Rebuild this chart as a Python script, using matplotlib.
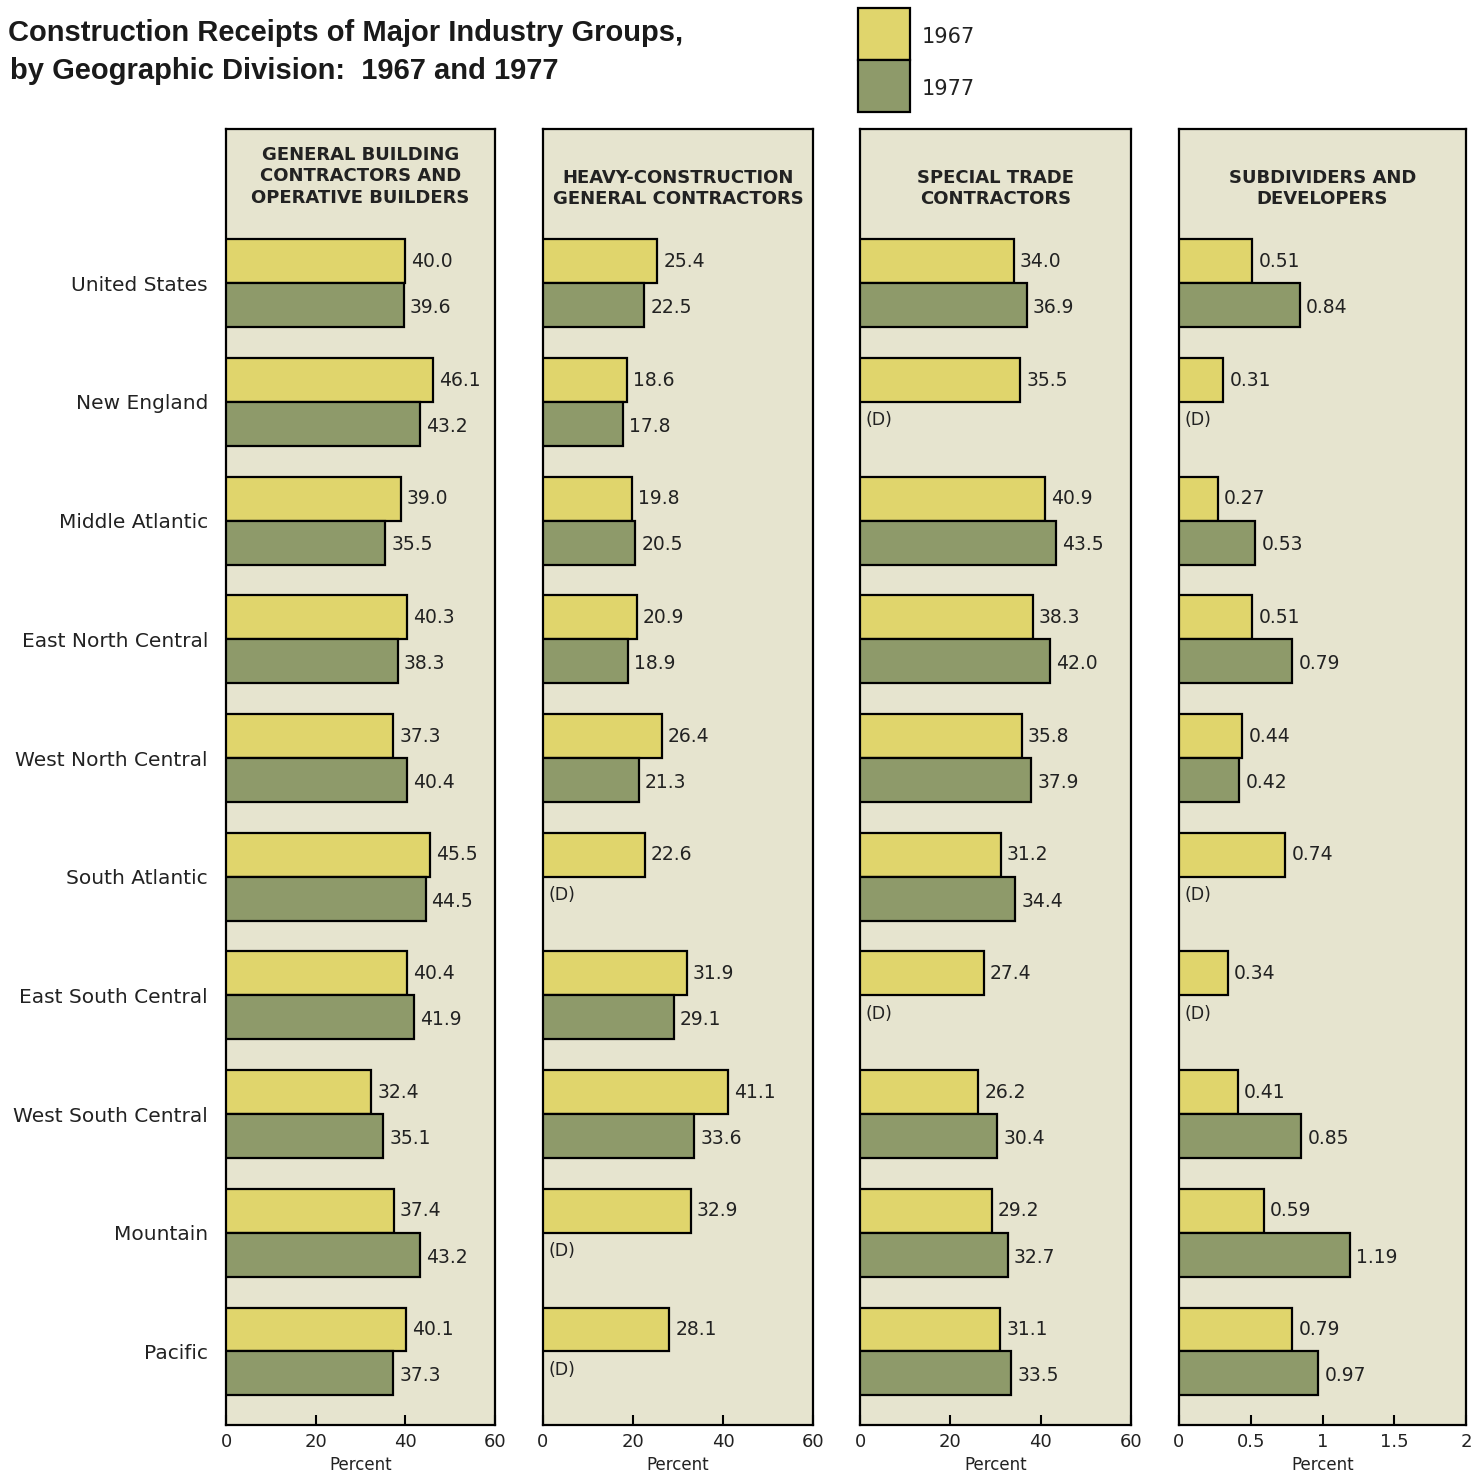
import matplotlib
matplotlib.use("Agg")
import matplotlib.pyplot as plt
from matplotlib.patches import Rectangle
import numpy as np

# divisions, top to bottom
divisions = ["United States", "New England", "Middle Atlantic", "East North Central",
             "West North Central", "South Atlantic", "East South Central",
             "West South Central", "Mountain", "Pacific"]

titles = ["GENERAL BUILDING\nCONTRACTORS AND\nOPERATIVE BUILDERS",
          "HEAVY-CONSTRUCTION\nGENERAL CONTRACTORS",
          "SPECIAL TRADE\nCONTRACTORS",
          "SUBDIVIDERS AND\nDEVELOPERS"]

# None = withheld, shown as (D)
general_1967 = [40.0, 46.1, 39.0, 40.3, 37.3, 45.5, 40.4, 32.4, 37.4, 40.1]
general_1977 = [39.6, 43.2, 35.5, 38.3, 40.4, 44.5, 41.9, 35.1, 43.2, 37.3]
heavy_1967 = [25.4, 18.6, 19.8, 20.9, 26.4, 22.6, 31.9, 41.1, 32.9, 28.1]
heavy_1977 = [22.5, 17.8, 20.5, 18.9, 21.3, None, 29.1, 33.6, None, None]
special_1967 = [34.0, 35.5, 40.9, 38.3, 35.8, 31.2, 27.4, 26.2, 29.2, 31.1]
special_1977 = [36.9, None, 43.5, 42.0, 37.9, 34.4, None, 30.4, 32.7, 33.5]
subdiv_1967 = [0.51, 0.31, 0.27, 0.51, 0.44, 0.74, 0.34, 0.41, 0.59, 0.79]
subdiv_1977 = [0.84, None, 0.53, 0.79, 0.42, None, None, 0.85, 1.19, 0.97]

xmax = [60, 60, 60, 2]
xticks = [[0, 20, 40, 60], [0, 20, 40, 60], [0, 20, 40, 60], [0, 0.5, 1, 1.5, 2]]
xticklabels = [["0", "20", "40", "60"]] * 3 + [["0", "0.5", "1", "1.5", "2"]]
fmts = ["{:.1f}", "{:.1f}", "{:.1f}", "{:.2f}"]

series = [(general_1967, general_1977), (heavy_1967, heavy_1977),
          (special_1967, special_1977), (subdiv_1967, subdiv_1977)]

c67 = "#e0d56c"
c77 = "#8e9a6a"
bg = "#e6e4cf"
txt = "#222222"
plt.rcParams['font.family'] = ['DejaVu Sans']

W, H = 1481, 1473
fig = plt.figure(figsize=(W / 100, H / 100), dpi=100)

lefts = [226, 543, 860, 1179]
widths = [269, 270, 271, 287]
top_px, bot_px = 129, 1425
title_y = [-0.90, -0.80, -0.80, -0.80]

y = np.arange(len(divisions))
h = 0.37

for k in range(4):
    ax = fig.add_axes([lefts[k] / W, 1 - bot_px / H, widths[k] / W, (bot_px - top_px) / H])
    ax.set_facecolor(bg)
    v67, v77 = series[k]
    a67 = np.array([np.nan if v is None else v for v in v67])
    a77 = np.array([0 if v is None else v for v in v77])
    ax.barh(y - h / 2, a67, height=h, color=c67, edgecolor="black", linewidth=1.6, zorder=3)
    bars77 = ax.barh(y + h / 2, a77, height=h, color=c77, edgecolor="black",
                     linewidth=1.6, zorder=3)
    # hide empty bars for (D)
    for p, v in zip(bars77, v77):
        if v is None:
            p.set_visible(False)
    off = xmax[k] * 0.022
    for i in range(len(divisions)):
        ax.text(v67[i] + off, y[i] - h / 2, fmts[k].format(v67[i]), va="center",
                ha="left", fontsize=13.5, color=txt)
        if v77[i] is None:
            ax.text(xmax[k] * 0.02, y[i] + h / 2 - 0.03, "(D)", va="center", ha="left",
                    fontsize=12.5, color=txt)
        else:
            ax.text(v77[i] + off, y[i] + h / 2 + 0.02, fmts[k].format(v77[i]), va="center",
                    ha="left", fontsize=13.5, color=txt)
    ax.text(xmax[k] / 2, title_y[k], titles[k], ha="center", va="center",
            fontsize=13, fontweight="semibold", color=txt, linespacing=1.25)
    ax.set_xlim(0, xmax[k])
    ax.set_ylim(9.62, -1.30)
    ax.set_yticks([])
    ax.set_xticks(xticks[k])
    ax.set_xticklabels(xticklabels[k], fontsize=13, color=txt)
    ax.tick_params(axis="x", direction="in", length=7, width=1.5, pad=6)
    ax.set_xlabel("Percent", fontsize=12, color=txt, labelpad=3)
    for s in ax.spines.values():
        s.set_linewidth(1.6)
    if k == 0:
        ax.set_yticks(y)
        ax.set_yticklabels(divisions, fontsize=14.5, color=txt)
        ax.tick_params(axis="y", length=0, pad=13)

# title
fig.text(8 / W, 1 - 33 / H, "Construction Receipts of Major Industry Groups,",
         fontsize=21, fontweight="bold", family="Liberation Sans", va="center",
         ha="left", color="#1a1a1a")
fig.text(10 / W, 1 - 71 / H, "by Geographic Division:  1967 and 1977",
         fontsize=21, fontweight="bold", family="Liberation Sans", va="center",
         ha="left", color="#1a1a1a")

# legend boxes
for yy, c, lab in [(8, c67, "1967"), (60, c77, "1977")]:
    fig.patches.append(Rectangle((858 / W, 1 - (yy + 52) / H), 52 / W, 52 / H,
                                 transform=fig.transFigure, facecolor=c,
                                 edgecolor="black", linewidth=1.6))
    fig.text(922 / W, 1 - (yy + 29) / H, lab, fontsize=15, va="center", ha="left",
             color=txt)

fig.savefig("out.png", dpi=100, facecolor="white")
